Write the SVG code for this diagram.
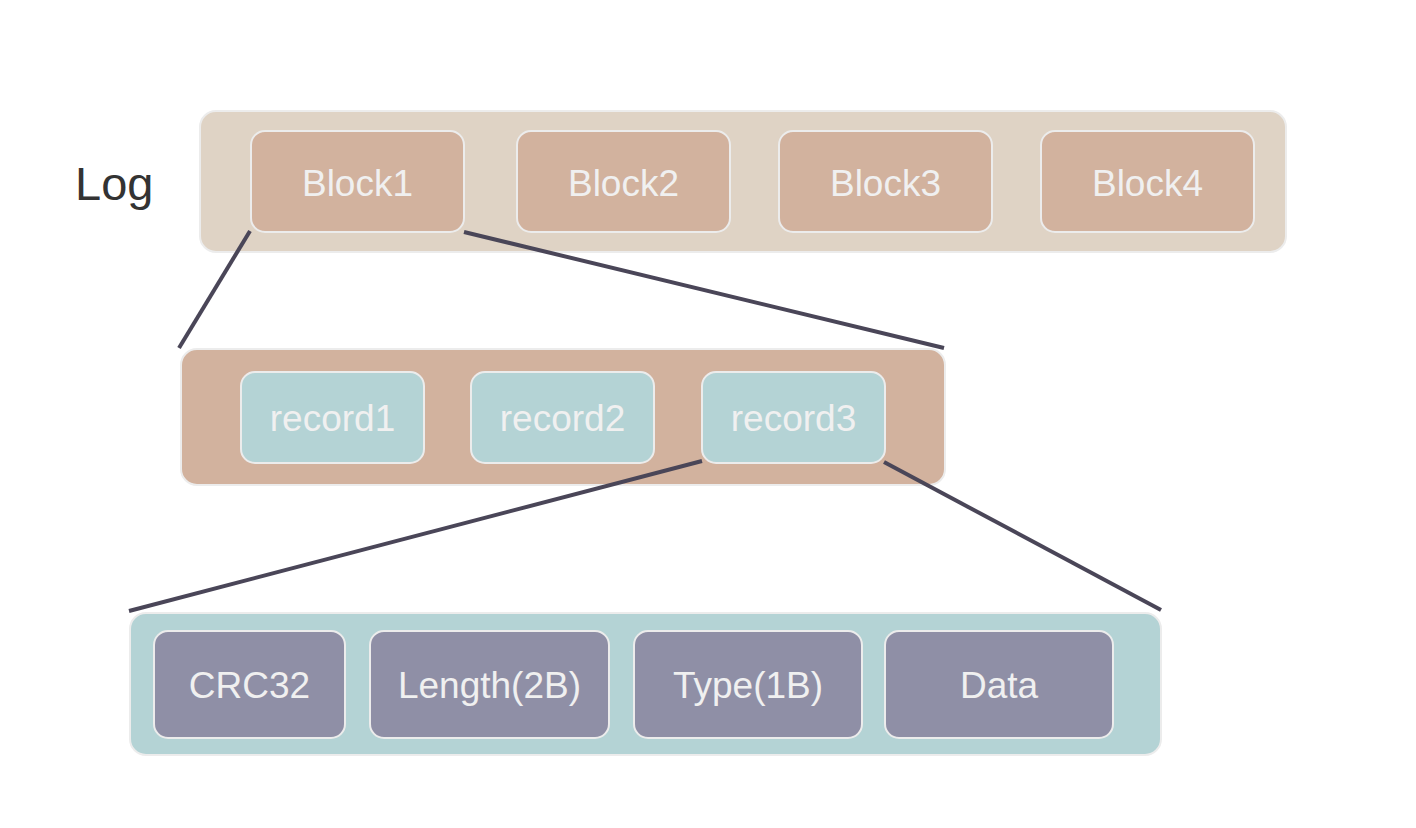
<svg xmlns="http://www.w3.org/2000/svg" width="1416" height="828" viewBox="0 0 1416 828">
<style>
.box{stroke:#ececec;stroke-width:2}
.log{fill:#dfd3c5}
.blk{fill:#d2b29e}
.rec{fill:#b4d3d5}
.fld{fill:#8f8fa6}
.t{font-family:"Liberation Sans",Arial,sans-serif;font-size:37px;fill:#f0f0f0;text-anchor:middle}
.conn{stroke:#4a4658;stroke-width:4;fill:none}
</style>
<rect width="1416" height="828" fill="#ffffff"/>
<text x="75" y="200" font-family="Liberation Sans, Arial, sans-serif" font-size="47" fill="#333333">Log</text>
<g id="log-container"><rect class="box log" x="200" y="111" width="1086" height="141" rx="16"/></g>
<g id="block1"><rect class="box blk" x="251" y="131" width="213" height="101" rx="14"/><text class="t" x="357.5" y="196">Block1</text></g>
<g id="block2"><rect class="box blk" x="517" y="131" width="213" height="101" rx="14"/><text class="t" x="623.5" y="196">Block2</text></g>
<g id="block3"><rect class="box blk" x="779" y="131" width="213" height="101" rx="14"/><text class="t" x="885.5" y="196">Block3</text></g>
<g id="block4"><rect class="box blk" x="1041" y="131" width="213" height="101" rx="14"/><text class="t" x="1147.5" y="196">Block4</text></g>
<g id="block-container"><rect class="box blk" x="181" y="349" width="764" height="136" rx="16"/></g>
<g id="record1"><rect class="box rec" x="241" y="372" width="183" height="91" rx="14"/><text class="t" x="332.5" y="431">record1</text></g>
<g id="record2"><rect class="box rec" x="471" y="372" width="183" height="91" rx="14"/><text class="t" x="562.5" y="431">record2</text></g>
<g id="record3"><rect class="box rec" x="702" y="372" width="183" height="91" rx="14"/><text class="t" x="793.5" y="431">record3</text></g>
<g id="record-container"><rect class="box rec" x="130" y="613" width="1031" height="142" rx="16"/></g>
<g id="crc32"><rect class="box fld" x="154" y="631" width="191" height="107" rx="14"/><text class="t" x="249.5" y="698">CRC32</text></g>
<g id="length"><rect class="box fld" x="370" y="631" width="239" height="107" rx="14"/><text class="t" x="489.5" y="698">Length(2B)</text></g>
<g id="type"><rect class="box fld" x="634" y="631" width="228" height="107" rx="14"/><text class="t" x="748" y="698">Type(1B)</text></g>
<g id="data"><rect class="box fld" x="885" y="631" width="228" height="107" rx="14"/><text class="t" x="999" y="698">Data</text></g>
<g id="connectors">
<line class="conn" x1="250" y1="231" x2="179" y2="348"/>
<line class="conn" x1="464" y1="232" x2="944" y2="348"/>
<line class="conn" x1="702" y1="461" x2="129" y2="611"/>
<line class="conn" x1="884" y1="462" x2="1161" y2="610"/>
</g>
</svg>
